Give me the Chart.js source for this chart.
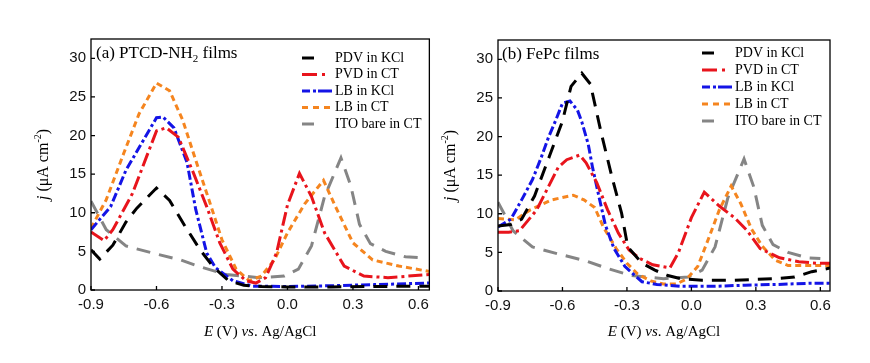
<!DOCTYPE html>
<html>
<head>
<meta charset="utf-8">
<script src="https://cdn.jsdelivr.net/npm/chart.js@4.4.1/dist/chart.umd.min.js"></script>
<style>
  html, body { margin: 0; padding: 0; background: #fff; }
  #wrap { position: relative; width: 870px; height: 363px; }
  .panel { position: absolute; top: 0; width: 435px; height: 363px; }
</style>
</head>
<body>
<div id="wrap">
  <div class="panel" style="left:0"><canvas id="chartA" width="435" height="363"></canvas></div>
  <div class="panel" style="left:435px"><canvas id="chartB" width="435" height="363"></canvas></div>
</div>
<script>
// series labels, shared by both panels
const seriesLabels = ['PDV in KCl', 'PVD in CT', 'LB in KCl', 'LB in CT', 'ITO bare in CT'];
const xTicks = [-0.9, -0.6, -0.3, 0.0, 0.3, 0.6];
const yTicks = [0, 5, 10, 15, 20, 25, 30];

// [E (V), j (uA cm-2)]
// (a) PTCD-NH2 films
const aPdvKcl = [[-0.9,5.2],[-0.86,4.0],[-0.8,5.8],[-0.74,8.8],[-0.69,10.6],[-0.6,13.2],[-0.54,11.6],[-0.47,8.3],[-0.4,5.2],[-0.34,3.0],[-0.27,1.2],[-0.2,0.6],[-0.12,0.45],[0,0.4],[0.2,0.4],[0.4,0.45],[0.65,0.5]];
const aPvdCt = [[-0.9,7.5],[-0.84,6.4],[-0.8,7.8],[-0.71,12.5],[-0.645,17.3],[-0.6,20.6],[-0.555,21.0],[-0.5,19.8],[-0.43,15.1],[-0.37,10.8],[-0.31,6.1],[-0.25,2.7],[-0.19,1.2],[-0.145,0.9],[-0.1,1.6],[-0.05,4.8],[0.0,11.0],[0.055,15.1],[0.11,12.1],[0.17,7.4],[0.26,3.1],[0.35,1.8],[0.46,1.6],[0.65,2.0]];
const aLbKcl = [[-0.9,7.8],[-0.81,10.8],[-0.74,15.5],[-0.66,19.4],[-0.6,22.3],[-0.57,22.4],[-0.52,21.0],[-0.46,16.5],[-0.42,10.4],[-0.37,4.8],[-0.33,2.9],[-0.25,1.2],[-0.16,0.5],[0,0.45],[0.2,0.55],[0.4,0.7],[0.65,0.9]];
const aLbCt = [[-0.9,8.0],[-0.83,11.7],[-0.75,17.7],[-0.68,22.8],[-0.6,26.8],[-0.54,25.8],[-0.48,22.0],[-0.42,16.8],[-0.36,11.7],[-0.3,6.5],[-0.235,2.7],[-0.175,1.2],[-0.12,1.8],[-0.06,3.9],[0,7.4],[0.08,11.2],[0.165,14.2],[0.22,10.8],[0.3,6.1],[0.39,3.9],[0.51,3.1],[0.65,2.4]];
// bare ITO reference, same in both panels
const itoBareCt = [[-0.9,11.5],[-0.83,7.8],[-0.74,5.7],[-0.62,4.8],[-0.49,3.9],[-0.4,3.0],[-0.28,2.0],[-0.13,1.6],[-0.015,1.8],[0.05,2.7],[0.11,5.7],[0.17,12.1],[0.245,17.1],[0.29,13.5],[0.33,8.5],[0.38,6.0],[0.45,5.0],[0.54,4.3],[0.6,4.2]];
// (b) FePc films
const bPdvKcl = [[-0.9,8.4],[-0.84,8.6],[-0.79,9.3],[-0.73,12.3],[-0.66,17.5],[-0.6,22.0],[-0.56,26.5],[-0.51,28.2],[-0.47,26.8],[-0.42,20.5],[-0.37,14.8],[-0.325,10.1],[-0.296,5.7],[-0.23,3.6],[-0.17,2.7],[-0.11,2.0],[-0.05,1.6],[0.05,1.4],[0.2,1.4],[0.39,1.6],[0.48,1.8],[0.56,2.5],[0.65,3.0]];
const bPvdCt = [[-0.9,7.6],[-0.85,7.6],[-0.8,7.8],[-0.72,10.5],[-0.62,16.0],[-0.58,17.0],[-0.52,17.6],[-0.49,16.6],[-0.44,14.0],[-0.39,10.5],[-0.34,7.5],[-0.29,5.3],[-0.24,4.2],[-0.18,3.4],[-0.1,3.0],[-0.06,5.0],[0,9.5],[0.06,12.8],[0.13,11.0],[0.2,9.5],[0.26,7.8],[0.32,5.5],[0.41,4.3],[0.5,3.8],[0.58,3.6],[0.65,3.6]];
const bLbKcl = [[-0.9,8.3],[-0.84,9.3],[-0.79,11.8],[-0.74,14.4],[-0.7,17.2],[-0.665,19.9],[-0.63,22.2],[-0.6,24.3],[-0.565,24.6],[-0.53,23.4],[-0.51,21.9],[-0.48,19.0],[-0.46,16.0],[-0.43,12.2],[-0.4,8.5],[-0.36,5.5],[-0.31,3.2],[-0.23,1.2],[-0.16,0.85],[-0.05,0.6],[0.1,0.6],[0.25,0.75],[0.4,0.85],[0.55,1.0],[0.65,1.0]];
const bLbCt = [[-0.9,9.4],[-0.82,9.2],[-0.75,10.5],[-0.65,11.8],[-0.55,12.4],[-0.5,11.8],[-0.45,10.8],[-0.41,8.3],[-0.35,5.5],[-0.3,3.6],[-0.25,2.2],[-0.19,1.3],[-0.13,0.9],[-0.07,0.9],[-0.02,1.6],[0.03,3.2],[0.08,6.8],[0.13,10.5],[0.185,13.6],[0.23,11.3],[0.28,8.0],[0.33,5.8],[0.39,4.0],[0.45,3.3],[0.55,3.3],[0.65,3.3]];

const STYLES = [
  { color: '#000000', dash: [14, 9], legendDash: [12, 40] },
  { color: '#e8141c', dash: [14, 4, 3, 4], legendDash: [15, 5, 3, 40] },
  { color: '#1414e6', dash: [9, 3, 3, 3], legendDash: [8, 3, 3, 2, 14, 40] },
  { color: '#f5851f', dash: [6, 4], legendDash: [6, 5] },
  { color: '#858585', dash: [14, 9], legendDash: [12, 40] },
];

const SERIF = '"Liberation Serif", "Times New Roman", serif';
const SANS = '"Liberation Sans", Arial, sans-serif';

// draw a run of [text, style] pieces starting at x
function drawRuns(ctx, runs, x, y) {
  runs.forEach(([txt, font, dy]) => {
    ctx.font = font;
    ctx.fillText(txt, x, y + (dy || 0));
    x += ctx.measureText(txt).width;
  });
}
function runsWidth(ctx, runs) {
  let w = 0;
  runs.forEach(([txt, font]) => { ctx.font = font; w += ctx.measureText(txt).width; });
  return w;
}

const framePlugin = (panel) => ({
  id: 'frame',
  afterDraw(chart) {
    const { ctx, chartArea: a, scales: { x, y } } = chart;
    ctx.save();
    ctx.strokeStyle = '#000';
    ctx.lineWidth = 1.3;
    ctx.strokeRect(a.left, a.top, a.right - a.left, a.bottom - a.top);
    ctx.beginPath();
    xTicks.forEach((v) => { const px = x.getPixelForValue(v); ctx.moveTo(px, a.bottom); ctx.lineTo(px, a.bottom - 4); });
    yTicks.forEach((v) => { const py = y.getPixelForValue(v); ctx.moveTo(a.left, py); ctx.lineTo(a.left + 4, py); });
    ctx.stroke();

    ctx.fillStyle = '#000';
    ctx.textBaseline = 'alphabetic';
    // panel title
    drawRuns(ctx, panel.title, a.left + panel.titleDx, a.top + 19);

    // x axis title
    const xRuns = [['E', 'italic 15px ' + SERIF], [' (V) ', '15px ' + SERIF], ['vs', 'italic 15px ' + SERIF], ['. Ag/AgCl', '15px ' + SERIF]];
    const xw = runsWidth(ctx, xRuns);
    drawRuns(ctx, xRuns, (a.left + a.right) / 2 - xw / 2, 336);

    // y axis title
    const yRuns = [['j', 'italic 16px ' + SERIF], [' (\u03bcA cm', '16px ' + SERIF], ['-2', '10px ' + SERIF, -7], [')', '16px ' + SERIF]];
    const yw = runsWidth(ctx, yRuns);
    ctx.save();
    ctx.translate(a.left - 43, (a.top + a.bottom) / 2);
    ctx.rotate(-Math.PI / 2);
    drawRuns(ctx, yRuns, -yw / 2, 0);
    ctx.restore();

    // legend
    ctx.textBaseline = 'middle';
    ctx.font = '14px ' + SERIF;
    seriesLabels.forEach((lab, i) => {
      const ry = panel.legY + i * panel.legStep;
      ctx.save();
      ctx.strokeStyle = STYLES[i].color;
      ctx.lineWidth = 3;
      ctx.setLineDash(STYLES[i].legendDash);
      ctx.beginPath();
      ctx.moveTo(panel.legX, ry);
      ctx.lineTo(panel.legX + 30, ry);
      ctx.stroke();
      ctx.restore();
      ctx.fillText(lab, panel.legX + 33, ry);
    });
    ctx.restore();
  },
});

function makeChart(id, panel) {
  const tickFont = { family: SANS, size: 15 };
  return new Chart(document.getElementById(id), {
    type: 'line',
    data: {
      datasets: panel.series.map((pts, i) => ({
        label: seriesLabels[i],
        data: pts.map(([e, j]) => ({ x: e, y: j })),
        borderColor: STYLES[i].color,
        borderDash: STYLES[i].dash,
        borderWidth: 3,
        borderCapStyle: 'butt',
        pointRadius: 0,
        tension: 0,
        fill: false,
      })),
    },
    options: {
      responsive: false,
      animation: false,
      layout: { padding: { top: panel.top, right: 435 - panel.right, left: 0, bottom: 0 } },
      plugins: { legend: { display: false }, tooltip: { enabled: false } },
      scales: {
        x: {
          type: 'linear', min: -0.9, max: panel.xMax,
          grid: { display: false, drawTicks: false }, border: { display: false },
          afterBuildTicks: (s) => { s.ticks = xTicks.map((v) => ({ value: v })); },
          afterFit: (s) => { s.height = 363 - panel.bottom; },
          ticks: { padding: 6, color: '#111', font: tickFont, maxRotation: 0, callback: (v) => Number(v).toFixed(1) },
        },
        y: {
          type: 'linear', min: 0, max: 32.5,
          grid: { display: false, drawTicks: false }, border: { display: false },
          afterBuildTicks: (s) => { s.ticks = yTicks.map((v) => ({ value: v })); },
          afterFit: (s) => { s.width = panel.left; },
          ticks: { padding: 5, color: '#111', font: tickFont, callback: (v) => String(v) },
        },
      },
    },
    plugins: [framePlugin(panel)],
  });
}

makeChart('chartA', {
  series: [aPdvKcl, aPvdCt, aLbKcl, aLbCt, itoBareCt],
  left: 91, right: 431, top: 39, bottom: 290, xMax: 0.65,
  title: [['(a) PTCD-NH', '17px ' + SERIF], ['2', '11px ' + SERIF, 4], [' films', '17px ' + SERIF]],
  titleDx: 5, legX: 302, legY: 58, legStep: 16.5,
});
makeChart('chartB', {
  series: [bPdvKcl, bPvdCt, bLbKcl, bLbCt, itoBareCt],
  left: 63, right: 395, top: 40, bottom: 291, xMax: 0.645,
  title: [['(b) FePc films', '17px ' + SERIF]],
  titleDx: 4, legX: 267, legY: 53, legStep: 17,
});
</script>
</body>
</html>
